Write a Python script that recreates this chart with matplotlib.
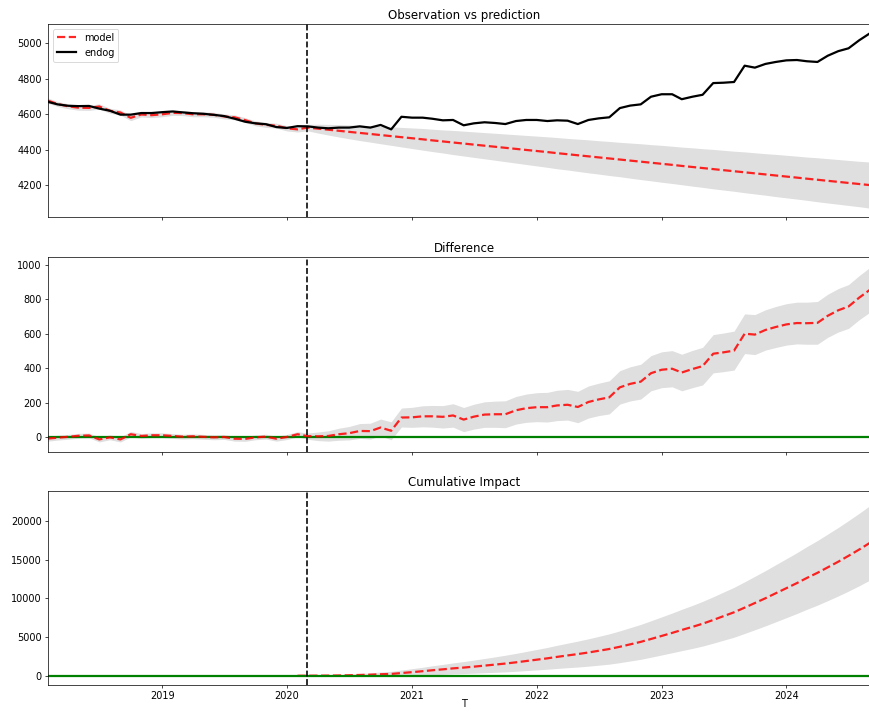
import numpy as np
import pandas as pd
import matplotlib
matplotlib.use("Agg")
import matplotlib.pyplot as plt
import matplotlib.dates as mdates

plt.rcParams["font.size"] = 11

# monthly series, intervention in March 2020
dates = pd.date_range("2018-02-01", periods=81, freq="MS")
intervention = pd.Timestamp("2020-03-01")
n_pre = 25

endog = [4670, 4656, 4648, 4646, 4647, 4632, 4620, 4598, 4598, 4607,
         4607, 4612, 4616, 4611, 4606, 4603, 4597, 4590, 4575, 4558,
         4549, 4544, 4528, 4523, 4533, 4532, 4525, 4521, 4525, 4525,
         4532, 4525, 4540, 4515, 4586, 4581, 4581, 4575, 4566, 4568,
         4538, 4549, 4555, 4551, 4545, 4562, 4568, 4568, 4562, 4566,
         4564, 4545, 4568, 4577, 4583, 4635, 4649, 4656, 4699, 4713,
         4713, 4685, 4699, 4710, 4776, 4778, 4782, 4874, 4863, 4884,
         4895, 4904, 4906, 4899, 4895, 4930, 4956, 4972, 5017, 5056,
         5090]

# in-sample fit, then forecast
model_pre = [4677, 4658, 4645, 4637, 4636, 4644, 4620, 4610, 4580, 4599,
             4595, 4600, 4608, 4607, 4600, 4600, 4597, 4588, 4583, 4567,
             4549, 4540, 4536, 4521, 4515]
model_post = [4525, 4519, 4513, 4507, 4501, 4495, 4489, 4483, 4477, 4471,
              4465, 4459, 4453, 4447, 4441, 4435, 4429, 4423, 4417, 4411,
              4405, 4399, 4393, 4387, 4381, 4375, 4369, 4363, 4357, 4351,
              4345, 4339, 4333, 4327, 4321, 4315, 4309, 4303, 4297, 4291,
              4285, 4279, 4273, 4267, 4261, 4255, 4249, 4243, 4237, 4231,
              4225, 4219, 4213, 4207, 4201, 4195]

# half width of the confidence band
hw_pre = [15, 14, 14, 14, 14, 15, 14, 15, 16, 14,
          14, 14, 14, 14, 14, 14, 14, 14, 14, 14,
          14, 14, 14, 15, 15]
hw_post = [18, 25, 30, 35, 39, 43, 46, 49, 52, 55,
           58, 61, 63, 65, 68, 70, 72, 74, 76, 78,
           80, 82, 84, 86, 88, 89, 91, 93, 94, 96,
           97, 99, 101, 102, 104, 105, 106, 108, 109, 111,
           112, 113, 115, 116, 117, 119, 120, 121, 122, 124,
           125, 126, 127, 128, 130, 131]

endog = np.array(endog, dtype=float)
model = np.array(model_pre + model_post, dtype=float)
hw = np.array(hw_pre + hw_post, dtype=float)

diff = endog - model
cum = np.zeros(len(dates))
cum[n_pre:] = np.cumsum(diff[n_pre:])
cum_hw = np.zeros(len(dates))
cum_hw[n_pre:] = np.cumsum(hw[n_pre:])

W, H, dpi = 869, 712, 64
fig = plt.figure(figsize=(W / dpi, H / dpi), dpi=dpi)

left = 48 / W
width = 832 / W
ax1 = fig.add_axes([left, (H - 217) / H, width, 193 / H])
ax2 = fig.add_axes([left, (H - 452) / H, width, 195 / H], sharex=ax1)
ax3 = fig.add_axes([left, (H - 685) / H, width, 194 / H], sharex=ax1)

red = dict(color="red", ls="--", lw=2.5, alpha=0.85)

# observation vs prediction
ax1.fill_between(dates, model - hw, model + hw, color="grey", alpha=0.25, lw=0)
ax1.plot(dates, model, label="model", **red)
ax1.plot(dates, endog, color="k", lw=2.5, label="endog")
ax1.axvline(intervention, color="k", ls="--", lw=1.8)
ax1.set_ylim(4021, 5109)
ax1.set_yticks([4200, 4400, 4600, 4800, 5000])
ax1.legend(loc="upper left")
ax1.set_title("Observation vs prediction")

# pointwise difference
ax2.fill_between(dates, diff - hw, diff + hw, color="grey", alpha=0.25, lw=0)
ax2.axhline(0, color="green", lw=2.5)
ax2.plot(dates, diff, **red)
ax2.axvline(intervention, color="k", ls="--", lw=1.8)
ax2.set_ylim(-85, 1046)
ax2.set_yticks([0, 200, 400, 600, 800, 1000])
ax2.set_title("Difference")

# cumulative impact
s = n_pre - 1
ax3.fill_between(dates[s:], cum[s:] - cum_hw[s:], cum[s:] + cum_hw[s:],
                 color="grey", alpha=0.25, lw=0)
ax3.plot(dates[s:], cum[s:], **red)
ax3.axhline(0, color="green", lw=2.5)
ax3.axvline(intervention, color="k", ls="--", lw=1.8)
ax3.set_ylim(-1200, 23900)
ax3.set_yticks([0, 5000, 10000, 15000, 20000])
ax3.set_title("Cumulative Impact")
ax3.set_xlabel("T", labelpad=-2)

ax1.set_xlim(dates[0], dates[-1])
ax3.xaxis.set_major_locator(mdates.YearLocator())
ax3.xaxis.set_major_formatter(mdates.DateFormatter("%Y"))
for ax in (ax1, ax2):
    plt.setp(ax.get_xticklabels(), visible=False)

fig.savefig("out.png", dpi=dpi)
